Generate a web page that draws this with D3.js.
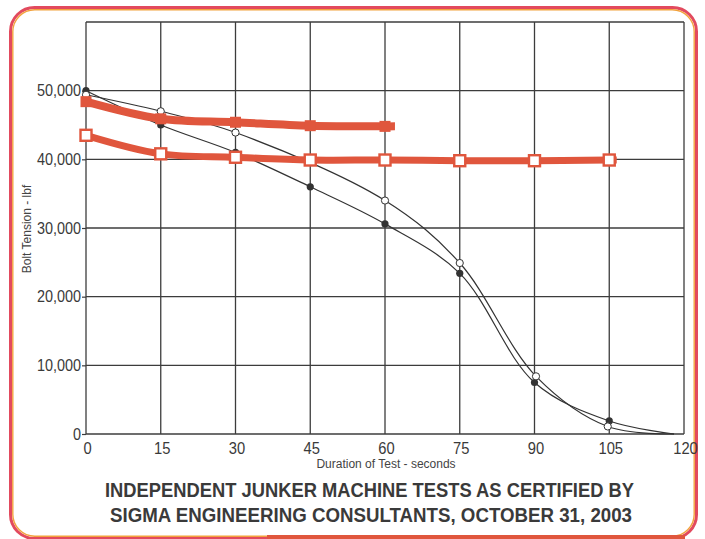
<!DOCTYPE html>
<html><head><meta charset="utf-8">
<script src="https://cdn.jsdelivr.net/npm/d3@7"></script>
<style>html,body{margin:0;padding:0;background:#fff;}svg{display:block;}</style>
</head><body>
<svg id="c" width="705" height="539"></svg>
<script>
// ---- data ----
const xTickValues = [0, 15, 30, 45, 60, 75, 90, 105, 120];
const yTickValues = [0, 10000, 20000, 30000, 40000, 50000];
const yGridValues = [0, 10000, 20000, 30000, 40000, 50000, 60000];

// black curve, filled circles
const filledT = [0, 15, 30, 45, 60, 75, 90, 105, 118];
const filledV = [50000, 45000, 41000, 36000, 30600, 23400, 7500, 1900, 0];
const filledMarker = [true, true, true, true, true, true, true, true, false];

// black curve, open circles
const openT = [0, 15, 30, 60, 75, 90.3, 104.7, 118];
const openV = [49400, 47000, 43900, 34000, 24900, 8400, 1100, 0];
const openMarker = [true, true, true, true, true, true, true, false];

// red thick, filled squares
const redAT = [0, 15, 30, 45, 60, 62];
const redAV = [48400, 45900, 45400, 44900, 44800, 44800];
const redAMarker = [true, true, true, true, true, false];

// red thick, open squares
const redBT = [0, 15, 30, 45, 60, 75, 90, 105, 106.5];
const redBV = [43500, 40800, 40300, 39900, 39900, 39800, 39800, 39900, 39900];
const redBMarker = [true, true, true, true, true, true, true, true, false];

const titleLines = ["INDEPENDENT JUNKER MACHINE TESTS AS CERTIFIED BY",
                    "SIGMA ENGINEERING CONSULTANTS, OCTOBER 31, 2003"];
const xAxisTitle = "Duration of Test - seconds";
const yAxisTitle = "Bolt Tension - lbf";

// ---- drawing ----
const svg = d3.select("#c");
const x = d3.scaleLinear().domain([0, 120]).range([86, 684]);
const y = d3.scaleLinear().domain([0, 60000]).range([434, 22]);
const gridColor = "#3c3c3c";
const red = "#e0563d";
const ink = "#333";
const font = "'Liberation Sans', Arial, sans-serif";

// outer rounded border
svg.append("rect").attr("x", 10.5).attr("y", 7.5).attr("width", 686).attr("height", 531)
  .attr("rx", 24).attr("fill", "none").attr("stroke", "#e24a5e").attr("stroke-width", 3);
svg.append("rect").attr("x", 12.8).attr("y", 9.8).attr("width", 681.4).attr("height", 526.4)
  .attr("rx", 22).attr("fill", "none").attr("stroke", "#f2a23c").attr("stroke-width", 1.4);
svg.append("rect").attr("x", 267).attr("y", 535).attr("width", 418).attr("height", 5).attr("fill", red);

// grid
const grid = svg.append("g");
grid.selectAll("line.v").data(xTickValues).join("line")
  .attr("x1", d => x(d)).attr("x2", d => x(d)).attr("y1", y(60000)).attr("y2", y(0))
  .attr("stroke", gridColor).attr("stroke-width", 1.3);
grid.selectAll("line.h").data(yGridValues).join("line")
  .attr("x1", x(0)).attr("x2", x(120)).attr("y1", d => y(d)).attr("y2", d => y(d))
  .attr("stroke", gridColor).attr("stroke-width", 1.3);

// axes
const yAxis = d3.axisLeft(y).tickValues(yTickValues).tickFormat(d3.format(",")).tickSize(4).tickPadding(1);
const gy = svg.append("g").attr("transform", `translate(${x(0)},0)`).call(yAxis);
gy.select(".domain").remove();
gy.selectAll(".tick line").attr("stroke", gridColor).attr("stroke-width", 1.2);
gy.selectAll(".tick text").attr("font-family", font)
  .attr("font-size", 16).attr("fill", "#3a3a3a")
  .each(function () {
    const w = this.getComputedTextLength();
    d3.select(this).attr("textLength", w * 0.9).attr("lengthAdjust", "spacingAndGlyphs");
  });

const xAxis = d3.axisBottom(x).tickValues(xTickValues).tickSize(0).tickPadding(9);
const gx = svg.append("g").attr("transform", `translate(1,${y(0)})`).call(xAxis);
gx.select(".domain").remove();
gx.selectAll(".tick text").attr("font-family", font)
  .attr("font-size", 16).attr("fill", "#3a3a3a")
  .each(function () {
    const w = this.getComputedTextLength();
    d3.select(this).attr("textLength", w * 0.92).attr("lengthAdjust", "spacingAndGlyphs");
  });

svg.append("text").attr("x", 386).attr("y", 468).attr("text-anchor", "middle")
  .attr("font-family", font).attr("font-size", 12)
  .attr("fill", "#444").text(xAxisTitle);
svg.append("text").attr("transform", "translate(31,229) rotate(-90)").attr("text-anchor", "middle")
  .attr("font-family", font).attr("font-size", 12)
  .attr("fill", "#444").text(yAxisTitle);

// title
const titleX = [[105, 529], [110, 522]];
const titleY = [497, 522];
titleLines.forEach((t, i) => {
  svg.append("text").attr("x", titleX[i][0]).attr("y", titleY[i])
    .attr("font-family", "'Liberation Sans Narrow', 'Liberation Sans', Arial, sans-serif")
    .attr("font-weight", "bold").attr("font-size", 19.5).attr("fill", "#3a3a3a")
    .attr("textLength", titleX[i][1]).attr("lengthAdjust", "spacingAndGlyphs").text(t);
});

function pts(ts, vs, ms) { return ts.map((t, i) => ({t, v: vs[i], m: ms[i]})); }
const curve = d3.curveCatmullRom.alpha(0.5);
const line = d3.line().x(d => x(d.t)).y(d => y(d.v)).curve(curve);

const filled = pts(filledT, filledV, filledMarker);
const open = pts(openT, openV, openMarker);
const redA = pts(redAT, redAV, redAMarker);
const redB = pts(redBT, redBV, redBMarker);

// black lines
[filled, open].forEach(s => {
  svg.append("path").datum(s).attr("d", line).attr("fill", "none")
    .attr("stroke", ink).attr("stroke-width", 1.2);
});
svg.selectAll("circle.f").data(filled.filter(d => d.m)).join("circle")
  .attr("cx", d => x(d.t)).attr("cy", d => y(d.v)).attr("r", 3.6).attr("fill", ink);
svg.selectAll("circle.o").data(open.filter(d => d.m)).join("circle")
  .attr("cx", d => x(d.t)).attr("cy", d => y(d.v)).attr("r", 3.6)
  .attr("fill", "#fff").attr("stroke", ink).attr("stroke-width", 1);

// red lines
svg.append("path").datum(redA).attr("d", line).attr("fill", "none")
  .attr("stroke", red).attr("stroke-width", 8);
svg.append("path").datum(redB).attr("d", line).attr("fill", "none")
  .attr("stroke", red).attr("stroke-width", 7);
svg.selectAll("rect.a").data(redA.filter(d => d.m)).join("rect")
  .attr("x", d => x(d.t) - 5.5).attr("y", d => y(d.v) - 5.5).attr("width", 11).attr("height", 11)
  .attr("fill", red);
svg.selectAll("rect.b").data(redB.filter(d => d.m)).join("rect")
  .attr("x", d => x(d.t) - 5.5).attr("y", d => y(d.v) - 5.5).attr("width", 11).attr("height", 11)
  .attr("fill", "#fff").attr("stroke", red).attr("stroke-width", 2.4);
</script>
</body></html>
